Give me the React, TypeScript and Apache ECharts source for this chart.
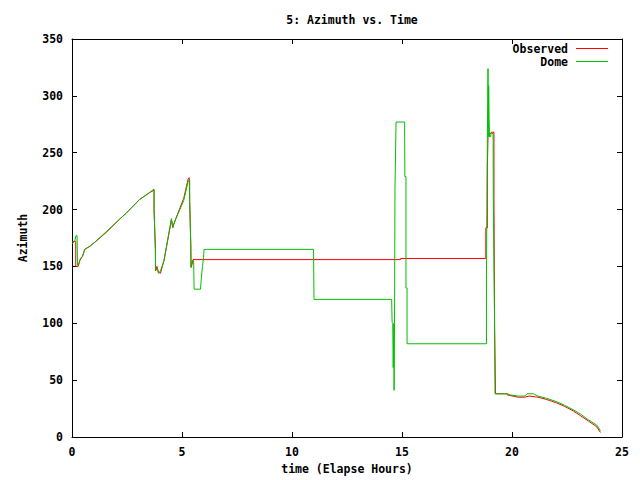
import React, { useEffect, useRef } from "react";
import * as echarts from "echarts";

const titleText = "5: Azimuth vs. Time";
const xName = "time (Elapse Hours)";
const yName = "Azimuth";
const seriesNames = ["Observed", "Dome"];

const obsTime = [0, 0.17, 0.17, 0.28, 0.35, 0.48, 0.58, 0.83, 1.08, 1.56, 2.08, 2.47, 3.08, 3.53, 3.73, 3.73, 3.79, 3.8, 3.86, 3.93, 4.02, 4.18, 4.52, 4.58, 4.68, 5.08, 5.28, 5.33, 5.35, 5.4, 5.41, 5.46, 5.5, 14.94, 14.94, 18.81, 18.81, 18.88, 18.88, 18.91, 19.06, 19.18, 19.18, 19.21, 19.25, 19.78, 19.78, 20.28, 20.58, 20.78, 21.18, 21.58, 22.03, 22.38, 22.78, 23.13, 23.48, 23.85, 24.02];
const obsAz = [172, 172, 150, 150, 155, 159, 165, 168, 172, 180, 190, 197, 209, 215, 217, 200, 165, 146, 150, 145, 144, 155, 191, 184, 190, 210, 227, 228, 207, 168, 149, 152, 156, 156, 157, 157, 184, 184, 237, 264, 268, 268, 210, 95, 38, 38, 37, 35, 35, 36, 35, 33, 30, 27, 23, 18.5, 14, 9, 4];

const domeTime = [0, 0.12, 0.18, 0.23, 0.25, 0.33, 0.38, 0.48, 0.58, 0.83, 1.08, 1.58, 2.08, 2.47, 3.08, 3.53, 3.73, 3.73, 3.79, 3.8, 3.88, 3.93, 4.02, 4.18, 4.52, 4.58, 4.68, 5.08, 5.28, 5.35, 5.35, 5.4, 5.41, 5.46, 5.53, 5.55, 5.84, 5.88, 5.93, 5.98, 6.0, 10.98, 11.0, 14.53, 14.55, 14.58, 14.6, 14.63, 14.64, 14.66, 14.68, 14.73, 15.12, 15.13, 15.18, 15.18, 15.23, 15.23, 18.84, 18.84, 18.87, 18.88, 18.91, 18.92, 18.94, 18.96, 18.98, 19.02, 19.06, 19.14, 19.15, 19.21, 19.23, 19.78, 19.93, 20.28, 20.58, 20.68, 20.98, 21.18, 21.58, 22.03, 22.38, 22.78, 23.13, 23.48, 23.85, 24.02];
const domeAz = [170, 172, 177, 177, 151, 153, 157, 159, 165, 168, 172, 181, 190, 197, 209, 215, 218, 200, 165, 147, 148, 144, 146, 155, 192, 185, 190, 208, 225, 226, 207, 168, 150, 155, 155, 130, 130, 140, 150, 158, 165, 165, 121, 121, 101, 100, 61, 100, 41, 100, 218, 277, 277, 229, 229, 131, 131, 82, 82, 143, 143, 263, 324, 264, 309, 280, 264, 264, 267, 267, 210, 95, 38, 38, 37, 36, 36, 38, 38, 36, 34, 31, 28, 24, 20, 15, 10.5, 5.5];

const xTicks = { min: 0, max: 25, interval: 5 };
const yTicks = { min: 0, max: 350, interval: 50 };

const FONT = "DejaVu Sans Mono";

export default function App() {
  const ref = useRef<HTMLDivElement>(null);
  useEffect(() => {
    document.body.style.margin = "0";
    if (!ref.current) return;
    const chart = echarts.init(ref.current, null, { renderer: "svg" });
    const obsData = obsTime.map((t, i) => [t, obsAz[i]]);
    const domeData = domeTime.map((t, i) => [t, domeAz[i]]);
    const labelStyle = { fontFamily: FONT, fontSize: 11.5, fontWeight: "bold" as const, color: "#000" };
    const axisLine = { show: true, onZero: false, lineStyle: { color: "#000", width: 1 } };
    const tick = { show: true, inside: true, length: 5, lineStyle: { color: "#000" } };
    chart.setOption({
      animation: false,
      backgroundColor: "#fff",
      title: {
        text: titleText,
        left: 347,
        top: 9,
        textAlign: "center",
        textStyle: { ...labelStyle, fontSize: 11.5 },
      },
      legend: {
        orient: "vertical",
        right: 32,
        top: 42,
        padding: 0,
        itemGap: 0,
        align: "right",
        icon: "rect",
        itemWidth: 32,
        itemHeight: 1,
        itemStyle: { borderWidth: 0 },
        textStyle: { ...labelStyle, lineHeight: 13, padding: [0, 3, 0, 0] },
        data: seriesNames,
      },
      grid: { left: 72, right: 18, top: 39, bottom: 42, containLabel: false },
      xAxis: [
        {
          type: "value",
          ...xTicks,
          name: xName,
          nameLocation: "middle",
          nameGap: 26,
          nameTextStyle: labelStyle,
          axisLine,
          axisTick: tick,
          axisLabel: { ...labelStyle, margin: 9 },
          splitLine: { show: false },
        },
        {
          type: "value",
          position: "top",
          ...xTicks,
          axisLine,
          axisTick: tick,
          axisLabel: { show: false },
          splitLine: { show: false },
        },
      ],
      yAxis: [
        {
          type: "value",
          ...yTicks,
          name: yName,
          nameLocation: "middle",
          nameGap: 43,
          nameTextStyle: labelStyle,
          axisLine,
          axisTick: tick,
          axisLabel: { ...labelStyle, margin: 9 },
          splitLine: { show: false },
        },
        {
          type: "value",
          position: "right",
          ...yTicks,
          axisLine,
          axisTick: tick,
          axisLabel: { show: false },
          splitLine: { show: false },
        },
      ],
      series: [
        {
          name: seriesNames[0],
          type: "line",
          data: obsData,
          showSymbol: false,
          symbol: "none",
          lineStyle: { color: "#ff0000", width: 1 },
          itemStyle: { color: "#ff0000" },
        },
        {
          name: seriesNames[1],
          type: "line",
          data: domeData,
          showSymbol: false,
          symbol: "none",
          lineStyle: { color: "#00c000", width: 1 },
          itemStyle: { color: "#00c000" },
        },
      ],
    });
    return () => chart.dispose();
  }, []);
  return <div ref={ref} style={{ width: 640, height: 480 }} />;
}
